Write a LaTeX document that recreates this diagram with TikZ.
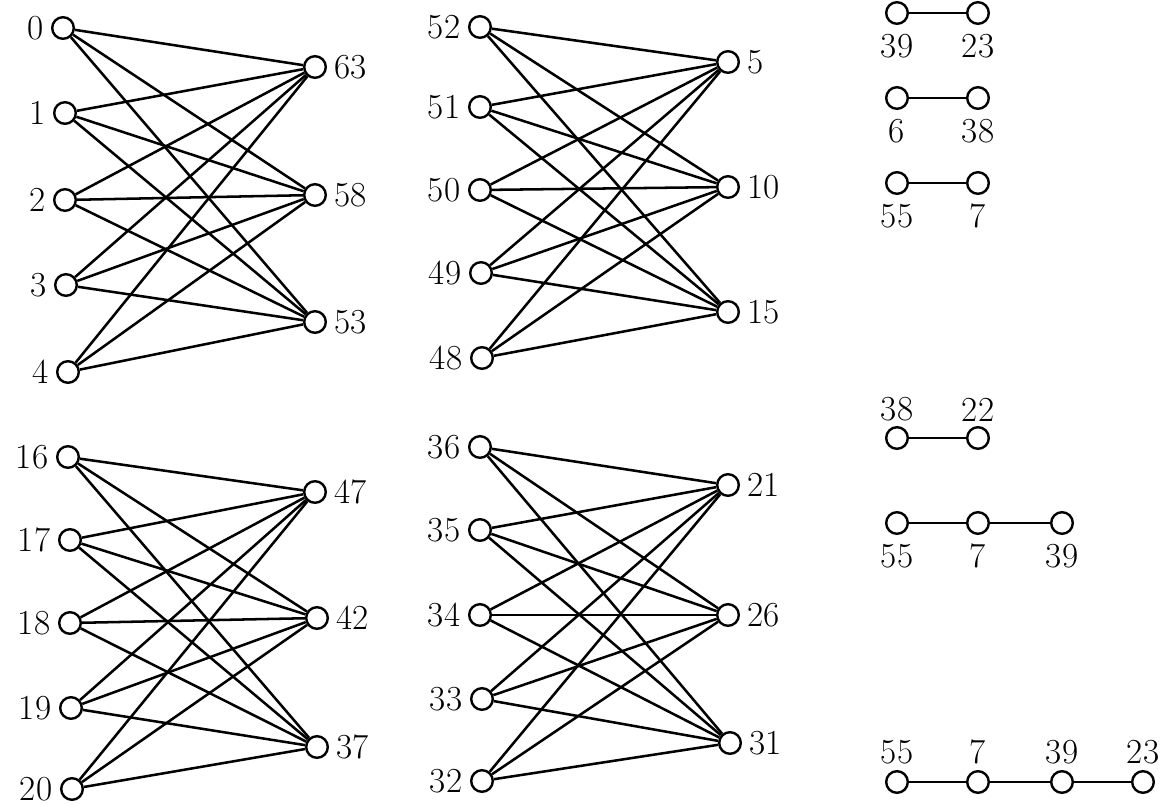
\documentclass[tikz,border=0pt]{standalone}
\usepackage{fontspec}
\usepackage{tikz}

\begin{document}
\begin{tikzpicture}[
  x=0.025cm,y=-0.025cm,font=\fontsize{25}{29}\selectfont,
  vx/.style={circle,draw,line width=1.7pt,minimum size=5.4mm,inner sep=0pt},
  ed/.style={line width=1.8pt},
  label distance=2pt
]
\useasboundingbox (0,0) rectangle (1165,809);
% top left
\foreach \n/\x/\y in {0/63/28,1/65/113,2/65/200,3/66/285,4/68/372}
  \node[vx,label=left:\n] (v\n) at (\x,\y) {};
\foreach \n/\x/\y in {63/315/67,58/315/195,53/315/322}
  \node[vx,label=right:\n] (v\n) at (\x,\y) {};
\foreach \a in {0,...,4}
  \foreach \b in {63,58,53}
    \draw[ed] (v\a)--(v\b);
% bottom left
\foreach \n/\x/\y in {16/68/457,17/70/540,18/70/623,19/71/708,20/72/789}
  \node[vx,label=left:\n] (v\n) at (\x,\y) {};
\foreach \n/\x/\y in {47/315/492,42/317/618,37/317/747}
  \node[vx,label=right:\n] (v\n) at (\x,\y) {};
\foreach \a in {16,...,20}
  \foreach \b in {47,42,37}
    \draw[ed] (v\a)--(v\b);
% top middle
\foreach \n/\x/\y in {52/480/27,51/480/107,50/480/190,49/481/273,48/482/358}
  \node[vx,label=left:\n] (v\n) at (\x,\y) {};
\foreach \n/\x/\y in {5/728/62,10/728/187,15/728/312}
  \node[vx,label=right:\n] (v\n) at (\x,\y) {};
\foreach \a in {48,...,52}
  \foreach \b in {5,10,15}
    \draw[ed] (v\a)--(v\b);
% bottom middle
\foreach \n/\x/\y in {36/480/447,35/480/530,34/480/615,33/482/699,32/482/781}
  \node[vx,label=left:\n] (v\n) at (\x,\y) {};
\foreach \n/\x/\y in {21/728/485,26/728/615,31/730/743}
  \node[vx,label=right:\n] (v\n) at (\x,\y) {};
\foreach \a in {32,...,36}
  \foreach \b in {21,26,31}
    \draw[ed] (v\a)--(v\b);
% paths on the right
\begin{scope}[label distance=3pt]
\node[vx,label=below:39] (a39) at (897,13) {};
\node[vx,label=below:23] (a23) at (978,13) {};
\node[vx,label=below:6] (b6) at (897,98) {};
\node[vx,label=below:38] (b38) at (978,98) {};
\node[vx,label=below:55] (c55) at (897,183) {};
\node[vx,label=below:7] (c7) at (978,183) {};
\node[vx,label={[label distance=0pt]above:38}] (d38) at (897,438) {};
\node[vx,label={[label distance=0pt]above:22}] (d22) at (978,438) {};
\node[vx,label=below:55] (e55) at (897,523) {};
\node[vx,label=below:7] (e7) at (978,523) {};
\node[vx,label=below:39] (e39) at (1062,523) {};
\node[vx,label={[label distance=1pt]above:55}] (f55) at (897,782) {};
\node[vx,label={[label distance=1pt]above:7}] (f7) at (978,782) {};
\node[vx,label={[label distance=1pt]above:39}] (f39) at (1062,782) {};
\node[vx,label={[label distance=1pt]above:23}] (f23) at (1143,782) {};
\end{scope}
\draw[ed] (a39)--(a23);
\draw[ed] (b6)--(b38);
\draw[ed] (c55)--(c7);
\draw[ed] (d38)--(d22);
\draw[ed] (e55)--(e7)--(e39);
\draw[ed] (f55)--(f7)--(f39)--(f23);
\end{tikzpicture}
\end{document}
